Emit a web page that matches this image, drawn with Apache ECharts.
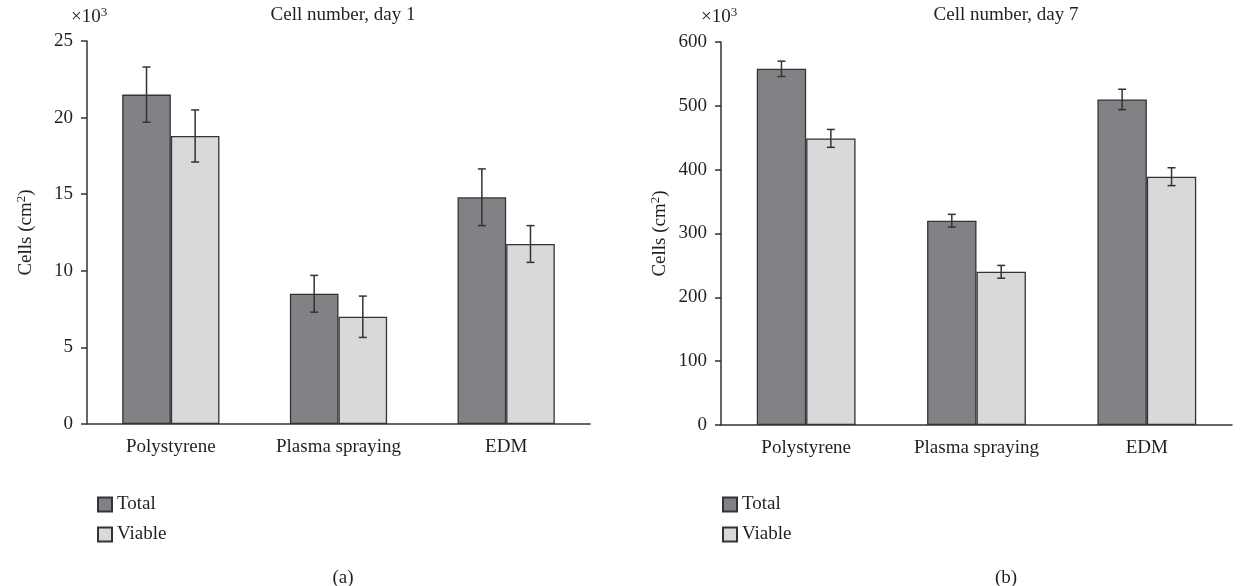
<!DOCTYPE html>
<html>
<head>
<meta charset="utf-8">
<script src="https://cdn.jsdelivr.net/npm/echarts@6/dist/echarts.min.js"></script>
<style>
  html, body { margin: 0; padding: 0; background: #fff; }
  #main { width: 1242px; height: 586px; }
</style>
</head>
<body>
<div id="main"></div>
<script>
var categories = ['Polystyrene', 'Plasma spraying', 'EDM'];
var seriesNames = ['Total', 'Viable'];

// day 1, x10^3 cells
var day1Total = [21.5, 8.5, 14.8];
var day1TotalErr = [1.8, 1.2, 1.85];
var day1Viable = [18.8, 7.0, 11.75];
var day1ViableErr = [1.7, 1.35, 1.2];

// day 7, x10^3 cells
var day7Total = [558, 320, 510];
var day7TotalErr = [12, 10, 16];
var day7Viable = [449, 240, 389];
var day7ViableErr = [14, 10, 14];

var day1Ticks = { min: 0, max: 25, interval: 5 };
var day7Ticks = { min: 0, max: 600, interval: 100 };

var FONT = 'Liberation Serif';
var FS = 19;
var DARK = '#333';
var TEXT = '#231f20';
var BAR_RATIO = 0.29;

var chartDom = document.getElementById('main');
var myChart = echarts.init(chartDom);

function errorBars(vals, errs) {
  return vals.map(function (v, i) { return [i, v, errs[i]]; });
}

function errorRender(side) {
  return function (params, api) {
    var xi = api.value(0);
    var v = api.value(1);
    var e = api.value(2);
    var hi = api.coord([xi, v + e]);
    var lo = api.coord([xi, v - e]);
    var band = api.size([1, 0])[0];
    var x = hi[0] + side * band * BAR_RATIO / 2;
    var cap = 4;
    var st = { stroke: DARK, lineWidth: 1.5 };
    return {
      type: 'group',
      children: [
        { type: 'line', shape: { x1: x, y1: hi[1], x2: x, y2: lo[1] }, style: st },
        { type: 'line', shape: { x1: x - cap, y1: hi[1], x2: x + cap, y2: hi[1] }, style: st },
        { type: 'line', shape: { x1: x - cap, y1: lo[1], x2: x + cap, y2: lo[1] }, style: st }
      ]
    };
  };
}

var supRich = {
  n: { color: TEXT, fontFamily: FONT, fontSize: FS, lineHeight: 21, verticalAlign: 'bottom' },
  s: { color: TEXT, fontFamily: FONT, fontSize: 13, lineHeight: 21, verticalAlign: 'top' }
};

function xAxisFor(idx) {
  return {
    type: 'category',
    gridIndex: idx,
    data: categories,
    axisLine: { lineStyle: { color: DARK, width: 1.5 } },
    axisTick: { length: 7, lineStyle: { color: DARK, width: 1.5 } },
    axisLabel: { color: TEXT, fontFamily: FONT, fontSize: FS, margin: 14 }
  };
}

function yAxisFor(idx, ticks) {
  return {
    type: 'value',
    gridIndex: idx,
    min: ticks.min,
    max: ticks.max,
    interval: ticks.interval,
    name: '{n|Cells (cm}{s|2}{n|)}',
    nameLocation: 'middle',
    nameRotate: 90,
    nameGap: 51,
    nameTextStyle: { color: TEXT, fontFamily: FONT, fontSize: FS, rich: supRich },
    axisLine: { show: true, lineStyle: { color: DARK, width: 1.5 } },
    axisTick: { show: true, length: 6, lineStyle: { color: DARK, width: 1.5 } },
    axisLabel: { color: TEXT, fontFamily: FONT, fontSize: FS, margin: 14 },
    splitLine: { show: false }
  };
}

function barSeries(name, idx, data, color) {
  return {
    name: name,
    type: 'bar',
    xAxisIndex: idx,
    yAxisIndex: idx,
    data: data,
    barWidth: (BAR_RATIO * 100) + '%',
    barGap: '0%',
    itemStyle: { color: color, borderColor: DARK, borderWidth: 1.3 },
    z: 2
  };
}

function errSeries(idx, vals, errs, side) {
  return {
    type: 'custom',
    xAxisIndex: idx,
    yAxisIndex: idx,
    data: errorBars(vals, errs),
    renderItem: errorRender(side),
    z: 5,
    silent: true
  };
}

var textStyle = { color: TEXT, fontFamily: FONT, fontSize: FS, fontWeight: 'normal' };
var supStyle = { color: TEXT, fontFamily: FONT, fontSize: FS, fontWeight: 'normal', rich: supRich };

function legendAt(x) {
  return {
    data: seriesNames, orient: 'vertical', left: x, top: 495, padding: 0,
    icon: 'rect', itemWidth: 14, itemHeight: 14, itemGap: 11,
    textStyle: { color: TEXT, fontFamily: FONT, fontSize: FS }
  };
}

var option = {
  animation: false,
  backgroundColor: '#fff',
  title: [
    { text: 'Cell number, day 1', left: 338, top: 1, textAlign: 'center', textStyle: textStyle },
    { text: 'Cell number, day 7', left: 1001, top: 1, textAlign: 'center', textStyle: textStyle },
    { text: '{n|×10}{s|3}', left: 66, top: 1, textStyle: supStyle },
    { text: '{n|×10}{s|3}', left: 696, top: 1, textStyle: supStyle },
    { text: '(a)', left: 338, top: 564, textAlign: 'center', textStyle: textStyle },
    { text: '(b)', left: 1001, top: 564, textAlign: 'center', textStyle: textStyle }
  ],
  legend: [legendAt(97), legendAt(722)],
  grid: [
    { left: 87, top: 41, width: 503, height: 383 },
    { left: 721, top: 42, width: 511, height: 383 }
  ],
  xAxis: [xAxisFor(0), xAxisFor(1)],
  yAxis: [yAxisFor(0, day1Ticks), yAxisFor(1, day7Ticks)],
  series: [
    barSeries('Total', 0, day1Total, '#818286'),
    barSeries('Viable', 0, day1Viable, '#d8d9db'),
    errSeries(0, day1Total, day1TotalErr, -1),
    errSeries(0, day1Viable, day1ViableErr, 1),
    barSeries('Total', 1, day7Total, '#818286'),
    barSeries('Viable', 1, day7Viable, '#d8d9db'),
    errSeries(1, day7Total, day7TotalErr, -1),
    errSeries(1, day7Viable, day7ViableErr, 1)
  ]
};

option && myChart.setOption(option);
</script>
</body>
</html>
